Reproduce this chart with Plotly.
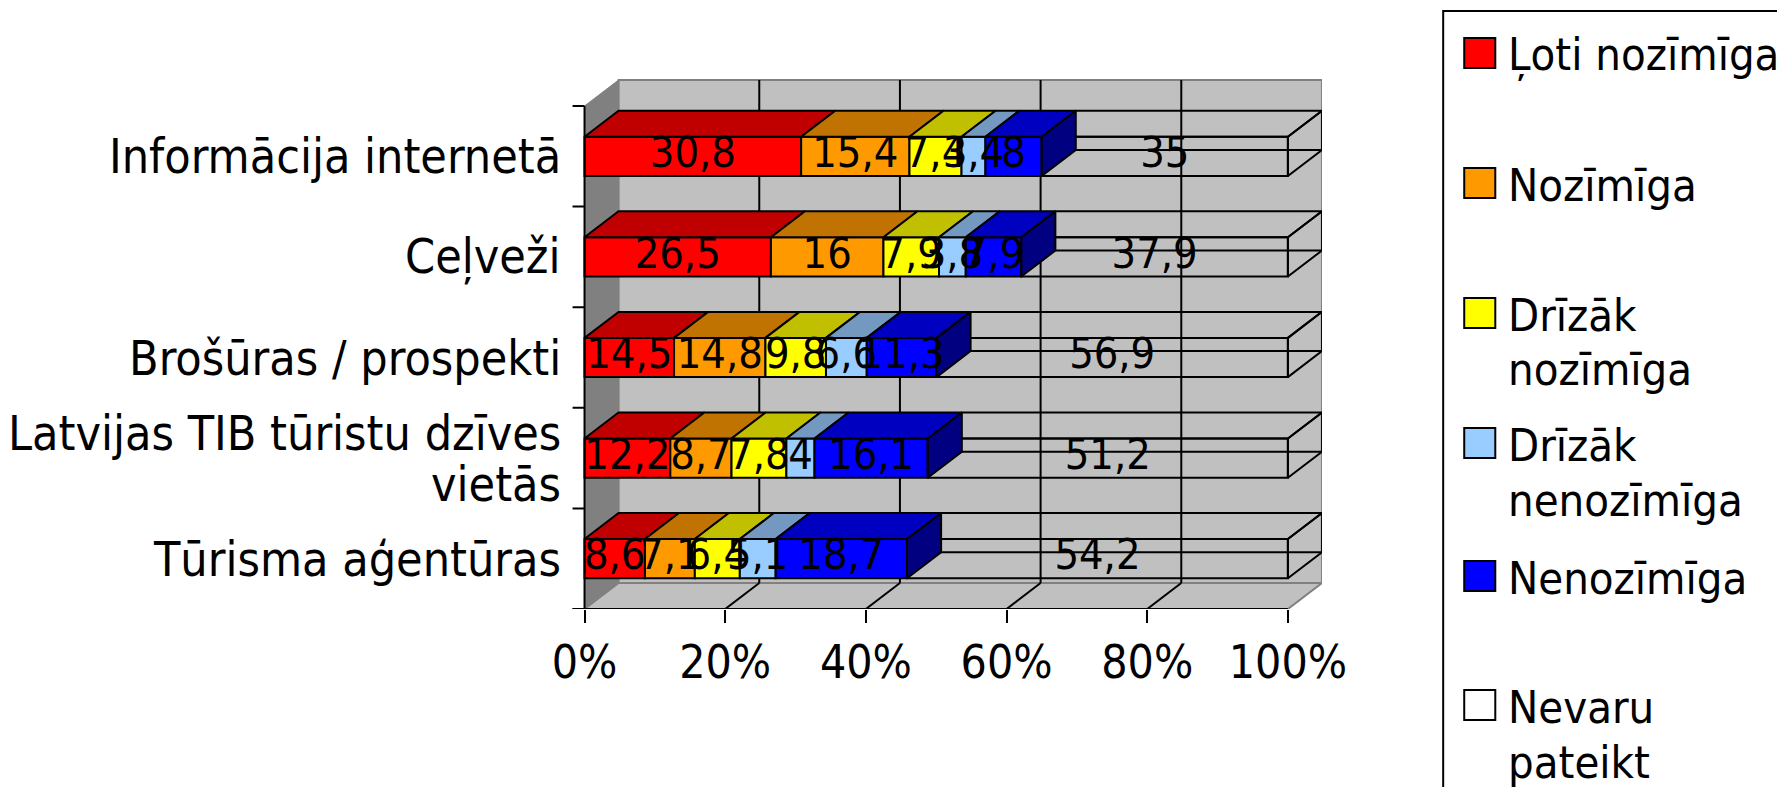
import numpy as np
import plotly.graph_objects as go

# rows, bottom to top
categories = [
    "Tūrisma aģentūras",
    "Latvijas TIB tūristu dzīves<br>vietās",
    "Brošūras / prospekti",
    "Ceļveži",
    "Informācija internetā",
]
series_names = ["Ļoti nozīmīga", "Nozīmīga", "Drīzāk<br>nozīmīga",
                "Drīzāk<br>nenozīmīga", "Nenozīmīga", "Nevaru<br>pateikt"]

loti_nozimiga = [8.6, 12.2, 14.5, 26.5, 30.8]
nozimiga = [7.1, 8.7, 14.8, 16, 15.4]
drizak_nozimiga = [6.4, 7.8, 9.8, 7.9, 7.4]
drizak_nenozimiga = [5.1, 4, 6.6, 3.8, 3.4]
nenozimiga = [18.7, 16.1, 11.3, 7.9, 8]
nevaru_pateikt = [54.2, 51.2, 56.9, 37.9, 35]

x_ticks = [0, 20, 40, 60, 80, 100]
x_ticktext = ["0%", "20%", "40%", "60%", "80%", "100%"]

front_colors = ["#FF0000", "#FF9900", "#FFFF00", "#99CCFF", "#0000FF", "rgba(0,0,0,0)"]
top_colors = ["#C00000", "#C07300", "#C0C000", "#7399C0", "#0000C0", "rgba(0,0,0,0)"]
legend_colors = ["#FF0000", "#FF9900", "#FFFF00", "#99CCFF", "#0000FF", "#FFFFFF"]
side_color = "#000080"

FONT = "DejaVu Sans Condensed, DejaVu Sans, sans-serif"
OFF = 8            # page body margin (vertical)
FW, FH = 1810, 779
SCALE, SHIFT = 0.9738, 28.3   # horizontal page -> picture correction


def pxx(p):
    return (p / SCALE - SHIFT) / FW


def pxy(p):
    return 1 - (p - OFF) / FH


# geometry of the fake 3d box, in picture pixels
PX_PER_PCT = 7.02
PX_PER_ROW = 100.6
X0_PX, FLOOR_PX, TOP_PX = 584, 609, 79
DX = 34 / PX_PER_PCT
DY = 26 / PX_PER_ROW
BAR_H = 0.39
X_LEFT = -2.0
x_range = [X_LEFT, 100 + DX]
y_range = [-0.5, -0.5 + (FLOOR_PX - TOP_PX) / PX_PER_ROW]
x_dom = [pxx(X0_PX + X_LEFT * PX_PER_PCT), pxx(X0_PX + (100 + DX) * PX_PER_PCT)]
y_dom = [pxy(FLOOR_PX), pxy(TOP_PX)]

values = np.array([loti_nozimiga, nozimiga, drizak_nozimiga,
                   drizak_nenozimiga, nenozimiga, nevaru_pateikt], dtype=float)
shares = values / values.sum(axis=0) * 100
starts = np.vstack([np.zeros(len(categories)), np.cumsum(shares, axis=0)[:-1]])
rows = np.arange(len(categories))

fig = go.Figure()

# front faces
for i in range(len(series_names)):
    fig.add_trace(go.Bar(
        y=rows, x=shares[i], base=starts[i], orientation="h", width=BAR_H,
        marker=dict(color=front_colors[i], line=dict(color="black", width=2)),
        showlegend=False, hoverinfo="skip",
    ))


def faces(i, kind):
    xs, ys = [], []
    for r in rows:
        a, b = starts[i][r], starts[i][r] + shares[i][r]
        yt, yb = r + BAR_H / 2, r - BAR_H / 2
        if kind == "top":
            xs += [a, b, b + DX, a + DX, a, None]
            ys += [yt, yt, yt + DY, yt + DY, yt, None]
        elif kind == "side":
            xs += [b, b, b + DX, b + DX, b, None]
            ys += [yt, yb, yb + DY, yt + DY, yt, None]
        else:  # back-bottom edge, seen through the empty box
            xs += [a + DX, b + DX, None]
            ys += [yb + DY, yb + DY, None]
    return xs, ys


last = len(series_names) - 1
# "Nevaru pateikt" is drawn as an empty wireframe box
for kind in ["back", "side", "top"]:
    xs, ys = faces(last, kind)
    fig.add_trace(go.Scatter(x=xs, y=ys, mode="lines", line=dict(color="black", width=2),
                             showlegend=False, hoverinfo="skip"))

for i in range(last):
    xs, ys = faces(i, "top")
    fig.add_trace(go.Scatter(x=xs, y=ys, mode="lines", fill="toself", fillcolor=top_colors[i],
                             line=dict(color="black", width=2), showlegend=False, hoverinfo="skip"))
xs, ys = faces(last - 1, "side")
fig.add_trace(go.Scatter(x=xs, y=ys, mode="lines", fill="toself", fillcolor=side_color,
                         line=dict(color="black", width=2), showlegend=False, hoverinfo="skip"))

# value labels
for i in range(len(series_names)):
    fig.add_trace(go.Scatter(
        x=starts[i] + shares[i] / 2, y=rows, mode="text",
        text=[f"{v:g}".replace(".", ",") for v in values[i]],
        textfont=dict(family=FONT, size=43, color="black"),
        showlegend=False, hoverinfo="skip", cliponaxis=False,
    ))

# walls, floor, gridlines
y_lo, y_hi = -0.5, len(categories) - 0.5
shapes = [
    dict(type="rect", x0=DX, x1=100 + DX, y0=y_lo + DY, y1=y_hi + DY,
         fillcolor="#C0C0C0", line=dict(color="#808080", width=2), layer="below"),
    dict(type="path", path=f"M0,{y_lo} L0,{y_hi} L{DX},{y_hi + DY} L{DX},{y_lo + DY} Z",
         fillcolor="#808080", line=dict(color="#808080", width=1), layer="below"),
    dict(type="path", path=f"M0,{y_lo} L100,{y_lo} L{100 + DX},{y_lo + DY} L{DX},{y_lo + DY} Z",
         fillcolor="#C0C0C0", line=dict(color="#808080", width=2), layer="below"),
]
for t in x_ticks[1:-1]:
    shapes.append(dict(type="line", x0=t + DX, x1=t + DX, y0=y_lo + DY, y1=y_hi + DY,
                       line=dict(color="black", width=2), layer="below"))
    shapes.append(dict(type="line", x0=t, x1=t + DX, y0=y_lo, y1=y_lo + DY,
                       line=dict(color="black", width=2), layer="below"))
shapes.append(dict(type="line", x0=X_LEFT * 0.85, x1=100, y0=y_lo, y1=y_lo,
                   line=dict(color="black", width=2)))
shapes.append(dict(type="line", x0=0, x1=0, y0=y_lo, y1=y_hi,
                   line=dict(color="black", width=2)))
for k in range(len(categories) + 1):
    shapes.append(dict(type="line", x0=X_LEFT * 0.85, x1=0, y0=y_lo + k, y1=y_lo + k,
                       line=dict(color="black", width=2)))

annotations = []
CAT_LINE = 51 / PX_PER_ROW
for r, name in zip(rows, categories):
    lines = name.split("<br>")
    for j, line in enumerate(lines):
        yy = r + CAT_LINE * ((len(lines) - 1) / 2 - j)
        annotations.append(dict(x=pxx(563), xref="paper", y=yy, yref="y", text=line,
                                xanchor="right", yanchor="middle", showarrow=False,
                                font=dict(family=FONT, size=48, color="black")))

# legend drawn by hand (large swatches, wide spacing)
shapes.append(dict(type="rect", xref="paper", yref="paper", x0=pxx(1441), x1=1.05, y0=-0.05,
                   y1=pxy(11), line=dict(color="black", width=2), fillcolor="white"))
legend_centers = [53, 183, 313, 443, 576, 705]
LEG_LINE = 55
for name, col, cy in zip(series_names, legend_colors, legend_centers):
    shapes.append(dict(type="rect", xref="paper", yref="paper", x0=pxx(1462), x1=pxx(1493),
                       y0=pxy(cy + 15), y1=pxy(cy - 15),
                       fillcolor=col, line=dict(color="black", width=2)))
    for j, line in enumerate(name.split("<br>")):
        annotations.append(dict(x=pxx(1504), xref="paper", y=pxy(cy + 2 + j * LEG_LINE), yref="paper",
                                text=line, xanchor="left", yanchor="middle",
                                showarrow=False, font=dict(family=FONT, size=45, color="black")))

fig.update_layout(
    width=FW, height=FH,
    margin=dict(l=0, r=0, t=0, b=0),
    paper_bgcolor="white", plot_bgcolor="rgba(0,0,0,0)",
    barmode="overlay", showlegend=False,
    xaxis=dict(domain=x_dom, range=x_range, tickvals=x_ticks, ticktext=x_ticktext,
               showgrid=False, zeroline=False, showline=False, ticks="outside",
               ticklen=13, tickwidth=2, tickcolor="black",
               tickfont=dict(family=FONT, size=46, color="black"), fixedrange=True),
    yaxis=dict(domain=y_dom, range=y_range, visible=False, fixedrange=True),
    shapes=shapes, annotations=annotations,
)

fig.write_html("out.html")
